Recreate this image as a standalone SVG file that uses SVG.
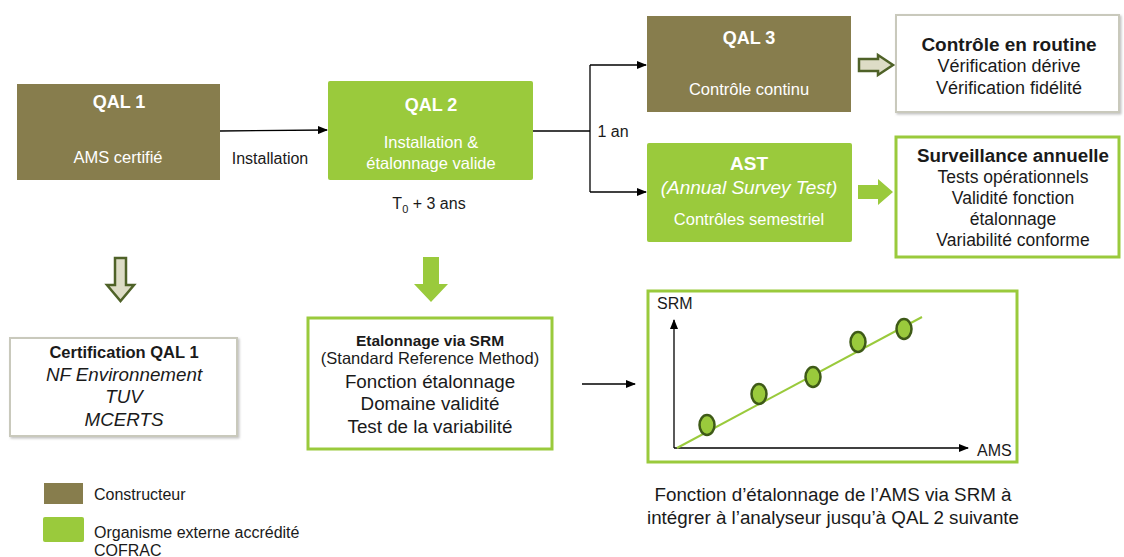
<svg xmlns="http://www.w3.org/2000/svg" width="1124" height="557" viewBox="0 0 1124 557">
<defs>
<marker id="ah" markerWidth="10" markerHeight="8" refX="9" refY="4" orient="auto" markerUnits="userSpaceOnUse"><path d="M0,0 L10,4 L0,8 Z" fill="#000"/></marker>
<filter id="sh" x="-5%" y="-5%" width="115%" height="115%"><feDropShadow dx="1.5" dy="1.5" stdDeviation="1" flood-color="#999" flood-opacity="0.6"/></filter>
<style>
text{font-family:"Liberation Sans",Arial,sans-serif;font-size:16px;fill:#1a1a1a;text-anchor:middle}
.w{fill:#fff;font-size:16.5px}
.t{fill:#fff;font-size:18px;font-weight:bold}
.b{font-weight:bold}
.i{font-style:italic}
.l{text-anchor:start}
.m{font-size:18.8px}
.s{font-size:17.5px}
.f155{font-size:15.5px}
.f18{font-size:18px}
.f19{font-size:19px}
.f165{font-size:16.5px}
.olive{fill:#877D4D}
.green{fill:#9ACA3C}
.gb{fill:#fff;stroke:#9ACA3C;stroke-width:3}
.grb{fill:#fff;stroke:#c9c9bc;stroke-width:2}
.c{fill:none;stroke:#000;stroke-width:1.3}
.pt{fill:#9ACA3C;stroke:#3E5A17;stroke-width:2.5}
</style>
</defs>
<g id="connectors">
<line class="c" x1="220" y1="131" x2="327" y2="130" marker-end="url(#ah)"/>
<polyline class="c" points="533,131 590,131"/>
<polyline class="c" points="590,65 590,192"/>
<line class="c" x1="590" y1="65" x2="646" y2="65" marker-end="url(#ah)"/>
<line class="c" x1="590" y1="192" x2="646" y2="192" marker-end="url(#ah)"/>
<line class="c" x1="582" y1="384" x2="635" y2="384" marker-end="url(#ah)"/>
<path d="M859,59 L878,59 L878,55 L893,65 L878,75 L878,71 L859,71 Z" fill="#DDDCC6" stroke="#4F6228" stroke-width="2.5"/>
<path d="M858,185 L878,185 L878,179 L893,192 L878,205 L878,199 L858,199 Z" fill="#9ACA3C"/>
<path d="M115,258 L126,258 L126,285 L134,285 L120.5,301 L107,285 L115,285 Z" fill="#DDDCC6" stroke="#4F6228" stroke-width="2.5"/>
<path d="M423,257 L439,257 L439,284 L448,284 L431,302 L414,284 L423,284 Z" fill="#9ACA3C"/>
</g>
<g id="qal1">
<rect class="olive" x="17" y="84" width="203" height="96"/>
<text class="t" x="119" y="108">QAL 1</text>
<text class="w" x="118" y="163">AMS certifié</text>
</g>
<text x="270" y="164">Installation</text>
<g id="qal2">
<rect class="green" x="328" y="81" width="205" height="99" rx="2"/>
<text class="t" x="431" y="111">QAL 2</text>
<text class="w" x="431" y="148">Installation &amp;</text>
<text class="w" x="431" y="169">étalonnage valide</text>
</g>
<text x="429" y="209">T<tspan font-size="11" dy="4">0</tspan><tspan dy="-4"> + 3 ans</tspan></text>
<text x="613" y="137">1 an</text>
<g id="qal3">
<rect class="olive" x="647" y="16" width="204" height="96"/>
<text class="t" x="749" y="44">QAL 3</text>
<text class="w" x="749" y="95">Contrôle continu</text>
</g>
<g id="routine">
<rect class="grb" x="896" y="15" width="223" height="97" filter="url(#sh)"/>
<text class="b f19" x="1009" y="51">Contrôle en routine</text>
<text class="f18" x="1009" y="72">Vérification dérive</text>
<text class="f18" x="1009" y="94">Vérification fidélité</text>
</g>
<g id="ast">
<rect class="green" x="647" y="143" width="205" height="99" rx="2"/>
<text class="w b f19" x="749" y="170">AST</text>
<text class="w i f19" x="749" y="194">(Annual Survey Test)</text>
<text class="w" x="749" y="225">Contrôles semestriel</text>
</g>
<g id="surveillance">
<rect class="gb" x="896" y="137" width="223" height="120"/>
<text class="b m" x="1013" y="162">Surveillance annuelle</text>
<text class="s" x="1013" y="183">Tests opérationnels</text>
<text class="s" x="1013" y="204">Validité fonction</text>
<text class="s" x="1013" y="225">étalonnage</text>
<text class="s" x="1013" y="246">Variabilité conforme</text>
</g>
<g id="certification">
<rect class="grb" x="10" y="338" width="227" height="98" filter="url(#sh)"/>
<text class="b f165" x="124" y="358">Certification QAL 1</text>
<text class="i m" x="124" y="381">NF Environnement</text>
<text class="i m" x="124" y="403">TUV</text>
<text class="i m" x="124" y="426">MCERTS</text>
</g>
<g id="etalonnage">
<rect class="gb" x="308" y="318" width="244" height="131"/>
<text class="b f155" x="430" y="346">Etalonnage via SRM</text>
<text class="f165" x="430" y="364">(Standard Reference Method)</text>
<text class="m" x="430" y="388">Fonction étalonnage</text>
<text class="m" x="430" y="410">Domaine validité</text>
<text class="m" x="430" y="433">Test de la variabilité</text>
</g>
<g id="chart">
<rect class="gb" x="648" y="291" width="369" height="171"/>
<text class="l" x="657" y="309">SRM</text>
<text class="l" x="977" y="456">AMS</text>
<line class="c" x1="674" y1="448" x2="674" y2="320" marker-end="url(#ah)"/>
<line class="c" x1="674" y1="448" x2="968" y2="448" marker-end="url(#ah)"/>
<line x1="677" y1="448" x2="922" y2="317" stroke="#9ACA3C" stroke-width="2"/>
<ellipse class="pt" cx="707" cy="425" rx="7.5" ry="10"/>
<ellipse class="pt" cx="759" cy="394" rx="7.5" ry="10"/>
<ellipse class="pt" cx="813" cy="377" rx="7.5" ry="10"/>
<ellipse class="pt" cx="858" cy="342" rx="7.5" ry="10"/>
<ellipse class="pt" cx="904" cy="329" rx="7.5" ry="10"/>
</g>
<g id="caption">
<text class="m" x="833" y="501">Fonction d’étalonnage de l’AMS via SRM à</text>
<text class="m" x="833" y="524">intégrer à l’analyseur jusqu’à QAL 2 suivante</text>
</g>
<g id="legend">
<rect class="olive" x="44" y="483" width="39" height="21"/>
<text class="l" x="94" y="500">Constructeur</text>
<rect class="green" x="43" y="517" width="41" height="25" rx="2"/>
<text class="l" x="94" y="538">Organisme externe accrédité</text>
<text class="l" x="94" y="556">COFRAC</text>
</g>
</svg>
